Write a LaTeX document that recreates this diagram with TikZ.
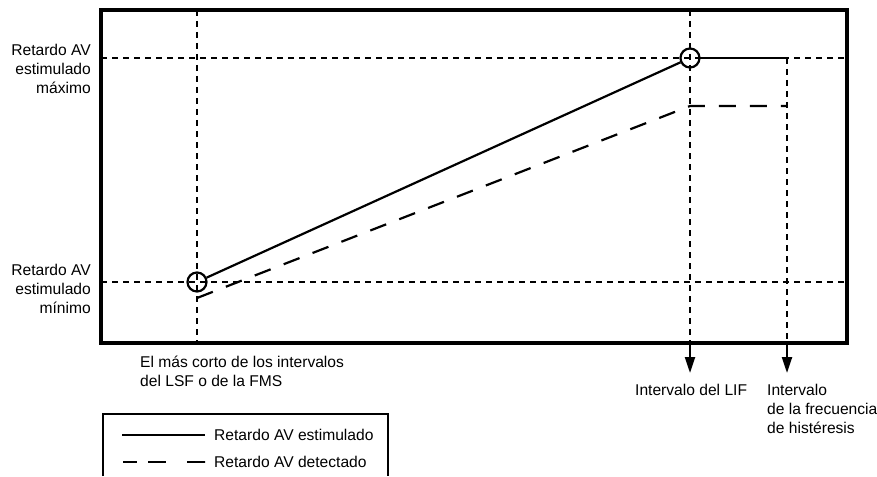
\documentclass[tikz,border=0pt]{standalone}
\usepackage{fontspec}
\setmainfont{Liberation Sans}
\usetikzlibrary{arrows.meta}
\begin{document}
\begin{tikzpicture}[x=1pt,y=-1pt,
  lbl/.style={inner sep=0pt,font=\fontsize{15.6}{19}\selectfont},
  frame/.style={line width=3.4pt},
  guide/.style={line width=2.2pt,dash pattern=on 6pt off 5pt},
  stim/.style={line width=2.2pt},
  detect/.style={line width=2.2pt,dash pattern=on 17pt off 14pt},
  ring/.style={circle,draw,line width=2.2pt,minimum size=19pt,inner sep=0pt},
  downarrow/.style={line width=2.2pt,-{Triangle[width=10pt,length=16pt]}}]
\useasboundingbox (0,0) rectangle (877,476);
% coordinates
\coordinate (TL) at (101,10);
\coordinate (BR) at (847,343);
\coordinate (vA) at (197,10);
\coordinate (vAb) at (197,343);
\coordinate (vB) at (690,10);
\coordinate (vBb) at (690,343);
\coordinate (vBe) at (690,373);
\coordinate (vC) at (787,58);
\coordinate (vCb) at (787,343);
\coordinate (vCe) at (787,373);
\coordinate (hMaxL) at (101,58);
\coordinate (hMaxR) at (847,58);
\coordinate (hMinL) at (101,282);
\coordinate (hMinR) at (847,282);
\coordinate (d0) at (197,298);
\coordinate (d1) at (690,106);
\coordinate (d2) at (787,106);
% guides
\draw[guide] (hMaxL) -- (hMaxR);
\draw[guide] (hMinL) -- (hMinR);
\draw[guide] (vA) -- (vAb);
\draw[guide] (vB) -- (vBb);
\draw[guide] (vC) -- (vCb);
% frame
\draw[frame] (TL) rectangle (BR);
% arrows below frame
\draw[downarrow] (vBb) -- (vBe);
\draw[downarrow] (vCb) -- (vCe);
% circles
\node[ring] (c1) at (197,282) {};
\node[ring] (c2) at (690,58) {};
% curves
\draw[stim] (c1) -- (c2);
\draw[stim] (c2.east) -- (vC);
\draw[detect] (d0) -- (d1) -- (d2);
% labels
\node[lbl,anchor=east,align=right] (lmax) at (91,69) {Retardo AV\\estimulado\\máximo};
\node[lbl,anchor=east,align=right] (lmin) at (91,289) {Retardo AV\\estimulado\\mínimo};
\node[lbl,anchor=west,align=left] (lshort) at (140,371) {El más corto de los intervalos\\del LSF o de la FMS};
\node[lbl,anchor=west] (llif) at (635,390) {Intervalo del LIF};
\node[lbl,anchor=west,align=left] (lhys) at (767,408.5) {Intervalo\\de la frecuencia\\de histéresis};
% legend
\coordinate (lg1) at (103,476);
\coordinate (lg2) at (103,414);
\coordinate (lg3) at (388,414);
\coordinate (lg4) at (388,476);
\draw[line width=1.6pt] (lg1) -- (lg2) -- (lg3) -- (lg4);
\coordinate (s1a) at (122,435);
\coordinate (s1b) at (205,435);
\coordinate (s2a) at (123,462);
\coordinate (s2b) at (205,462);
\draw[stim] (s1a) -- (s1b);
\draw[line width=2.2pt,dash pattern=on 14pt off 11pt on 18pt off 21pt on 18pt off 0pt] (s2a) -- (s2b);
\node[lbl,anchor=west] (leg1) at (214,435) {Retardo AV estimulado};
\node[lbl,anchor=west] (leg2) at (214,462) {Retardo AV detectado};
\end{tikzpicture}
\end{document}
